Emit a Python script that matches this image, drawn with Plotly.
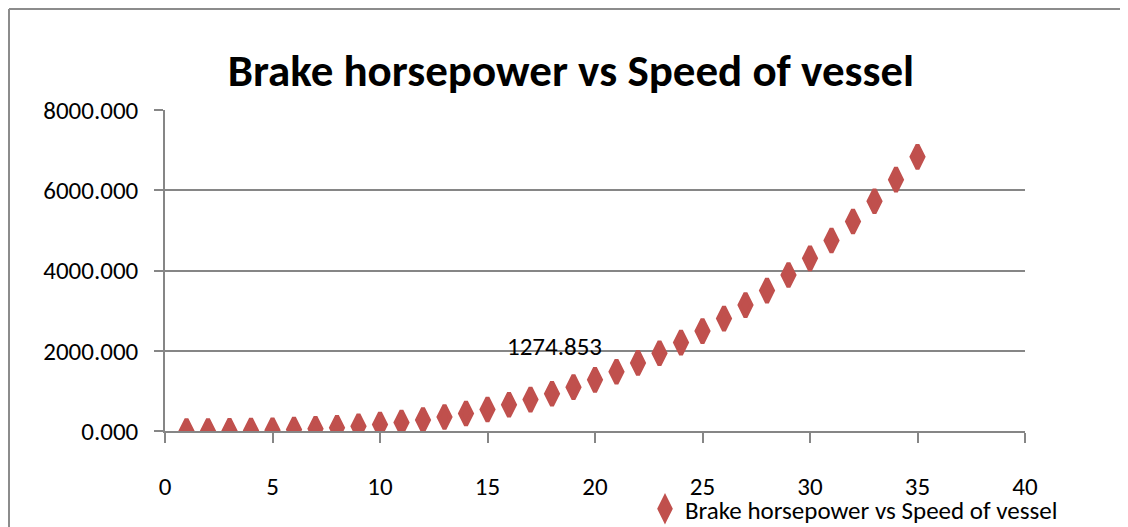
import plotly.graph_objects as go

speed = list(range(1, 36))
bhp = [0.16, 1.27, 4.30, 10.2, 19.9, 34.4, 54.7, 81.6, 116.2, 159.4,
       212.2, 275.4, 350.2, 437.3, 537.8, 652.7, 782.9, 929.4, 1093.1, 1274.853,
       1475.8, 1697.0, 1939.2, 2203.0, 2489.9, 2801.4, 3137.5, 3498.5, 3887.6, 4302.6,
       4747.5, 5222.0, 5727.4, 6264.1, 6832.6]
series_name = "Brake horsepower vs Speed of vessel"
title_text = "Brake horsepower vs Speed of vessel"
label_text = "1274.853"
x_ticks = [0, 5, 10, 15, 20, 25, 30, 35, 40]
y_ticks = [0, 2000, 4000, 6000, 8000]

FONT = "Carlito, Lato, sans-serif"
RED = "#C0504D"
GRID = "#868686"

OFF = 8  # page body margin
W, H = 1128 - OFF, 527 - OFF
# plot area in page pixels: x 165..1025, y 109.5..431
L = 165 - OFF
T = 110 - OFF
R = W - (1025 - OFF)
B = H - (431 - OFF)
pw, ph = W - L - R, H - T - B

def px_x(p):  # page pixel -> paper
    return (p - OFF - L) / pw

def px_y(p):
    return (H - B - (p - OFF)) / ph

fig = go.Figure()
fig.add_trace(go.Scatter(
    x=speed, y=bhp, mode="markers", name=series_name,
    marker=dict(symbol="diamond-tall", size=17, color=RED,
                line=dict(color=RED, width=4)),
))

fig.add_annotation(x=18.1, y=2115, text=label_text, showarrow=False,
                   font=dict(family=FONT, size=25, color="black"))

# chart border (top and left visible)
fig.add_shape(type="line", xref="paper", yref="paper",
              x0=px_x(9), x1=px_x(1140), y0=px_y(9), y1=px_y(9),
              line=dict(color="#8c8c8c", width=2))
fig.add_shape(type="line", xref="paper", yref="paper",
              x0=px_x(9), x1=px_x(9), y0=px_y(9), y1=px_y(540),
              line=dict(color="#8c8c8c", width=2))

fig.update_layout(
    width=W, height=H,
    margin=dict(l=L, r=R, t=T, b=B, autoexpand=False),
    paper_bgcolor="white", plot_bgcolor="white",
    title=dict(text=title_text, x=(571 - OFF) / W, xref="container", xanchor="center",
               y=1 - (70 - OFF) / H, yref="container", yanchor="middle",
               font=dict(family=FONT, size=45, color="black", weight="bold")),
    showlegend=True,
    legend=dict(x=px_x(645), y=px_y(509), xanchor="left", yanchor="middle",
                font=dict(family=FONT, size=25, color="black"),
                bgcolor="rgba(0,0,0,0)", borderwidth=0),
    xaxis=dict(range=[0, 40], tickvals=x_ticks, ticktext=[str(v) for v in x_ticks],
               showgrid=False, zeroline=False, showline=True, linecolor=GRID, linewidth=2,
               ticks="outside", ticklen=10, tickwidth=1.5, tickcolor=GRID,
               ticklabelstandoff=22,
               tickfont=dict(family=FONT, size=25, color="black")),
    yaxis=dict(range=[0, 8000], tickvals=y_ticks,
               ticktext=[f"{v:.3f}" for v in y_ticks],
               showgrid=True, gridcolor=GRID, gridwidth=2,
               zeroline=True, zerolinecolor=GRID, zerolinewidth=2,
               showline=True, linecolor=GRID, linewidth=1.5,
               ticks="outside", ticklen=9, tickwidth=1.5, tickcolor=GRID,
               ticklabelstandoff=11,
               tickfont=dict(family=FONT, size=25, color="black")),
)

fig.write_html("out.html")
